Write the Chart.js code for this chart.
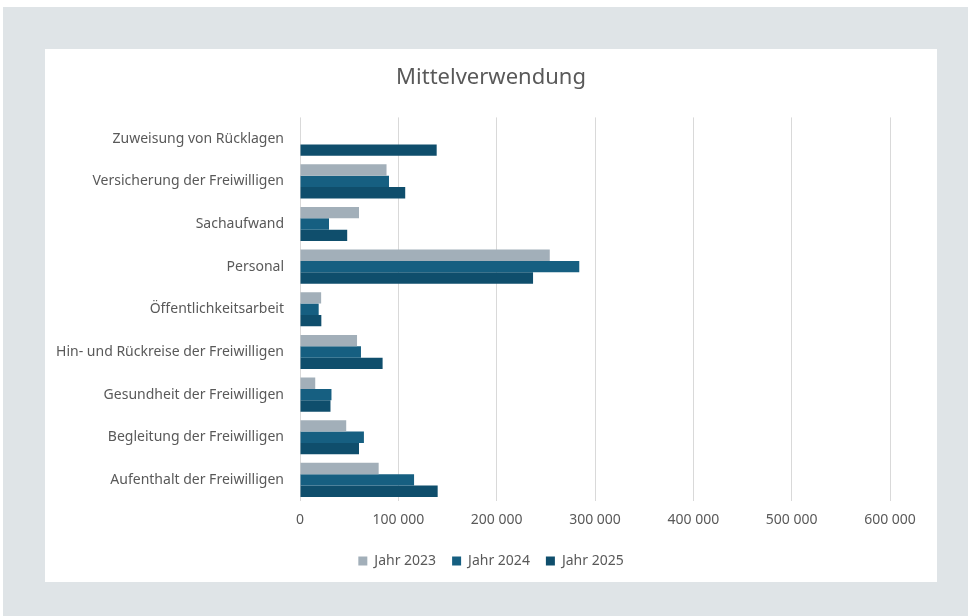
<!DOCTYPE html>
<html>
<head>
<meta charset="utf-8">
<script src="https://cdn.jsdelivr.net/npm/chart.js@4"></script>
<style>
    body { margin: 0; background: #ffffff; }
    #outer { position: absolute; left: 3px; top: 7px; width: 965px; height: 609px; background: #dfe4e7; }
    #card { position: absolute; left: 42px; top: 42px; width: 892px; height: 533px; background: #ffffff; }
</style>
</head>
<body>
<div id="outer">
    <div id="card"><canvas id="mittelChart" width="892" height="533"></canvas></div>
</div>
<script>
const categories = [
    'Zuweisung von Rücklagen',
    'Versicherung der Freiwilligen',
    'Sachaufwand',
    'Personal',
    'Öffentlichkeitsarbeit',
    'Hin- und Rückreise der Freiwilligen',
    'Gesundheit der Freiwilligen',
    'Begleitung der Freiwilligen',
    'Aufenthalt der Freiwilligen'
];
const jahr2023 = [0, 88000, 60000, 254000, 21500, 58000, 15500, 47000, 80000];
const jahr2024 = [0, 90500, 29500, 284000, 19000, 62000, 32000, 65000, 116000];
const jahr2025 = [139000, 107000, 48000, 237000, 21700, 84000, 31000, 60000, 140000];
const seriesLabels = ['Jahr 2023', 'Jahr 2024', 'Jahr 2025'];

const textColor = '#595959';
const fontFamily = "'Noto Sans', sans-serif";

function formatNumber(v) {
    return String(v).replace(/\B(?=(\d{3})+(?!\d))/g, ' ');
}

document.addEventListener('DOMContentLoaded', function() {
    const ctx = document.getElementById('mittelChart').getContext('2d');
    new Chart(ctx, {
        type: 'bar',
        data: {
            labels: categories,
            datasets: [
                { label: seriesLabels[0], data: jahr2023, backgroundColor: '#a2afb9' },
                { label: seriesLabels[1], data: jahr2024, backgroundColor: '#165f81' },
                { label: seriesLabels[2], data: jahr2025, backgroundColor: '#0f4e6c' }
            ]
        },
        options: {
            indexAxis: 'y',
            responsive: false,
            animation: false,
            datasets: {
                bar: { categoryPercentage: 0.8, barPercentage: 1.0 }
            },
            layout: { padding: { left: 0, right: 0, top: 0, bottom: 4 } },
            plugins: {
                title: {
                    display: true,
                    text: 'Mittelverwendung',
                    color: textColor,
                    font: { family: fontFamily, size: 22, weight: 'normal' },
                    padding: { top: 16, bottom: 26 }
                },
                legend: {
                    position: 'bottom',
                    labels: {
                        color: textColor,
                        font: { family: fontFamily, size: 14 },
                        boxWidth: 9,
                        boxHeight: 9,
                        padding: 16
                    }
                },
                tooltip: { enabled: false }
            },
            scales: {
                x: {
                    min: 0,
                    max: 600000,
                    ticks: {
                        stepSize: 100000,
                        color: textColor,
                        font: { family: fontFamily, size: 14 },
                        padding: 10,
                        callback: v => formatNumber(v)
                    },
                    grid: { color: '#d9d9d9', drawTicks: false },
                    border: { display: false }
                },
                y: {
                    afterFit: scale => { scale.width = 255; },
                    ticks: {
                        color: textColor,
                        font: { family: fontFamily, size: 14 },
                        padding: 8
                    },
                    grid: { display: false },
                    border: { display: false }
                },
                // empty right-hand spacer so title and legend stay centred on the card
                yRight: {
                    type: 'category',
                    position: 'right',
                    afterFit: scale => { scale.width = 47; },
                    ticks: { display: false },
                    grid: { display: false },
                    border: { display: false }
                }
            }
        }
    });
});
</script>
</body>
</html>
